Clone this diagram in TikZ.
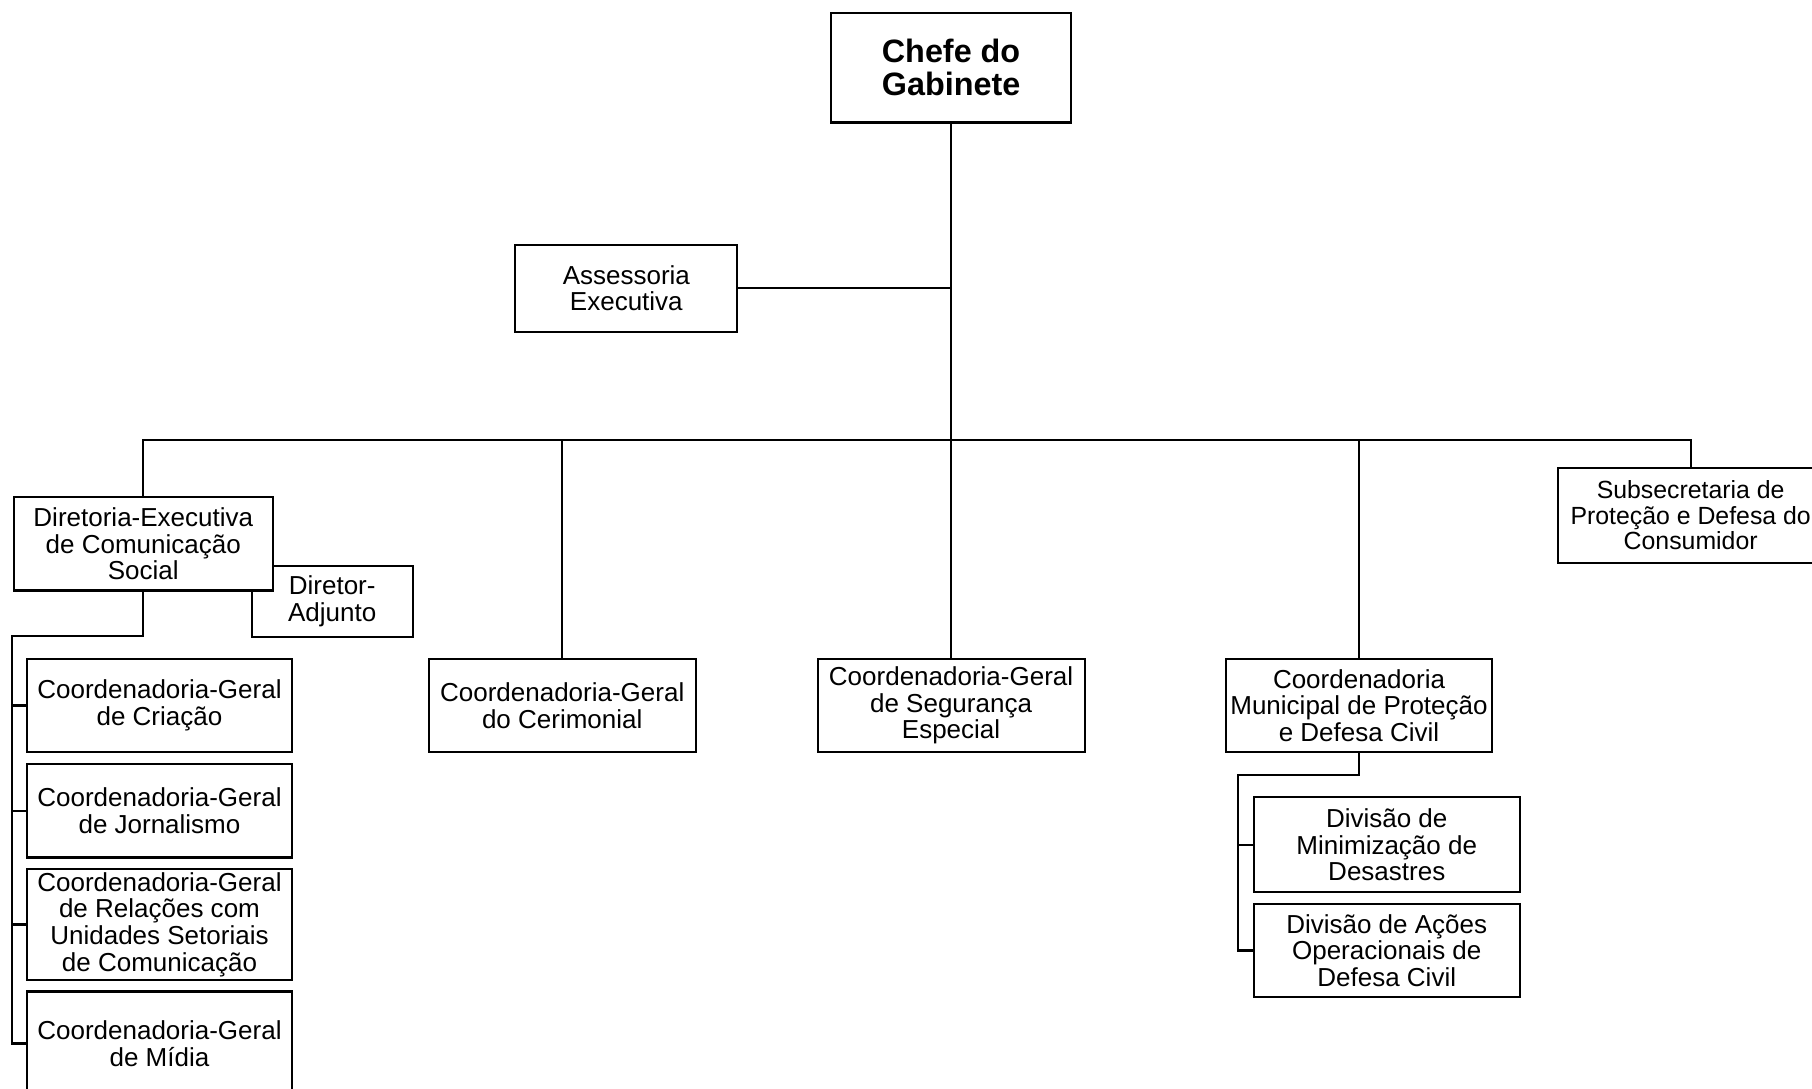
\documentclass[tikz,border=0pt]{standalone}
\usepackage{fontspec}
\setmainfont{Liberation Sans}
\begin{document}
\begin{tikzpicture}[x=1pt,y=-1pt,
  line width=1.8pt,
  box/.style={draw, fill=white, line width=1.8pt, align=center, inner sep=0pt,
    font=\fontsize{22.5}{23}\selectfont},
  bigbox/.style={box, font=\fontsize{28}{28}\selectfont\bfseries}]
\useasboundingbox (0,0) rectangle (1568,942);
\fill[white] (0,0) rectangle (1568,942);
\clip (0,0) rectangle (1568,942);

% nodes
\node[bigbox, minimum width=208pt, minimum height=95pt] (chefe) at (823,58.5) {Chefe do\\Gabinete};
\node[box, minimum width=192pt, minimum height=75pt] (assess) at (542,249.5) {Assessoria\\Executiva};
\node[box, minimum width=139pt, minimum height=61pt] (adj) at (287.5,520.5) {Diretor-\\Adjunto};
\node[box, minimum width=224pt, minimum height=81pt] (dir) at (124,470.5) {Diretoria-Executiva\\de Comunicação\\Social};
\node[box, minimum width=230pt, minimum height=81pt] (criacao) at (138,610.5) {Coordenadoria-Geral\\de Criação};
\node[box, minimum width=230pt, minimum height=81pt] (jorn) at (138,701.5) {Coordenadoria-Geral\\de Jornalismo};
\node[box, minimum width=230pt, minimum height=96pt] (rel) at (138,800) {Coordenadoria-Geral\\de Relações com\\Unidades Setoriais\\de Comunicação};
\node[box, minimum width=230pt, minimum height=90pt] (midia) at (138,903) {Coordenadoria-Geral\\de Mídia};
\node[box, minimum width=231pt, minimum height=81pt] (cerim) at (486.5,610.5) {Coordenadoria-Geral\\do Cerimonial};
\node[box, minimum width=231pt, minimum height=81pt] (seg) at (823,610.5) {Coordenadoria-Geral\\de Segurança\\Especial};
\node[box, minimum width=230pt, minimum height=81pt] (cmpdc) at (1176,610.5) {Coordenadoria\\Municipal de Proteção\\e Defesa Civil};
\node[box, minimum width=230pt, minimum height=82pt] (minim) at (1200,731) {Divisão de\\Minimização de\\Desastres};
\node[box, minimum width=230pt, minimum height=81pt] (acoes) at (1200,822.5) {Divisão de Ações\\Operacionais de\\Defesa Civil};
\node[box, minimum width=230pt, minimum height=82pt, font=\fontsize{21.5}{22}\selectfont] (subsec) at (1463,446) {Subsecretaria de\\Proteção e Defesa do\\Consumidor};

% connectors
\coordinate (bus) at (0,381);
\draw (chefe.south) -- (chefe.south |- bus);
\draw (assess.east) -- (assess.east -| chefe.south);
\draw (dir.north) -- (dir.north |- bus) -- (subsec.north |- bus) -- (subsec.north);
\draw (cerim.north) -- (cerim.north |- bus);
\draw (seg.north) -- (seg.north |- bus);
\draw (cmpdc.north) -- (cmpdc.north |- bus);

\coordinate (dspine) at (10,550);
\draw (dir.south) |- (dspine) -- (dspine |- midia.west) -- (midia.west);
\draw (dspine |- criacao.west) -- (criacao.west);
\draw (dspine |- jorn.west) -- (jorn.west);
\draw (dspine |- rel.west) -- (rel.west);

\coordinate (cspine) at (1071,671);
\draw (cmpdc.south) |- (cspine) -- (cspine |- acoes.west) -- (acoes.west);
\draw (cspine |- minim.west) -- (minim.west);
\end{tikzpicture}
\end{document}
